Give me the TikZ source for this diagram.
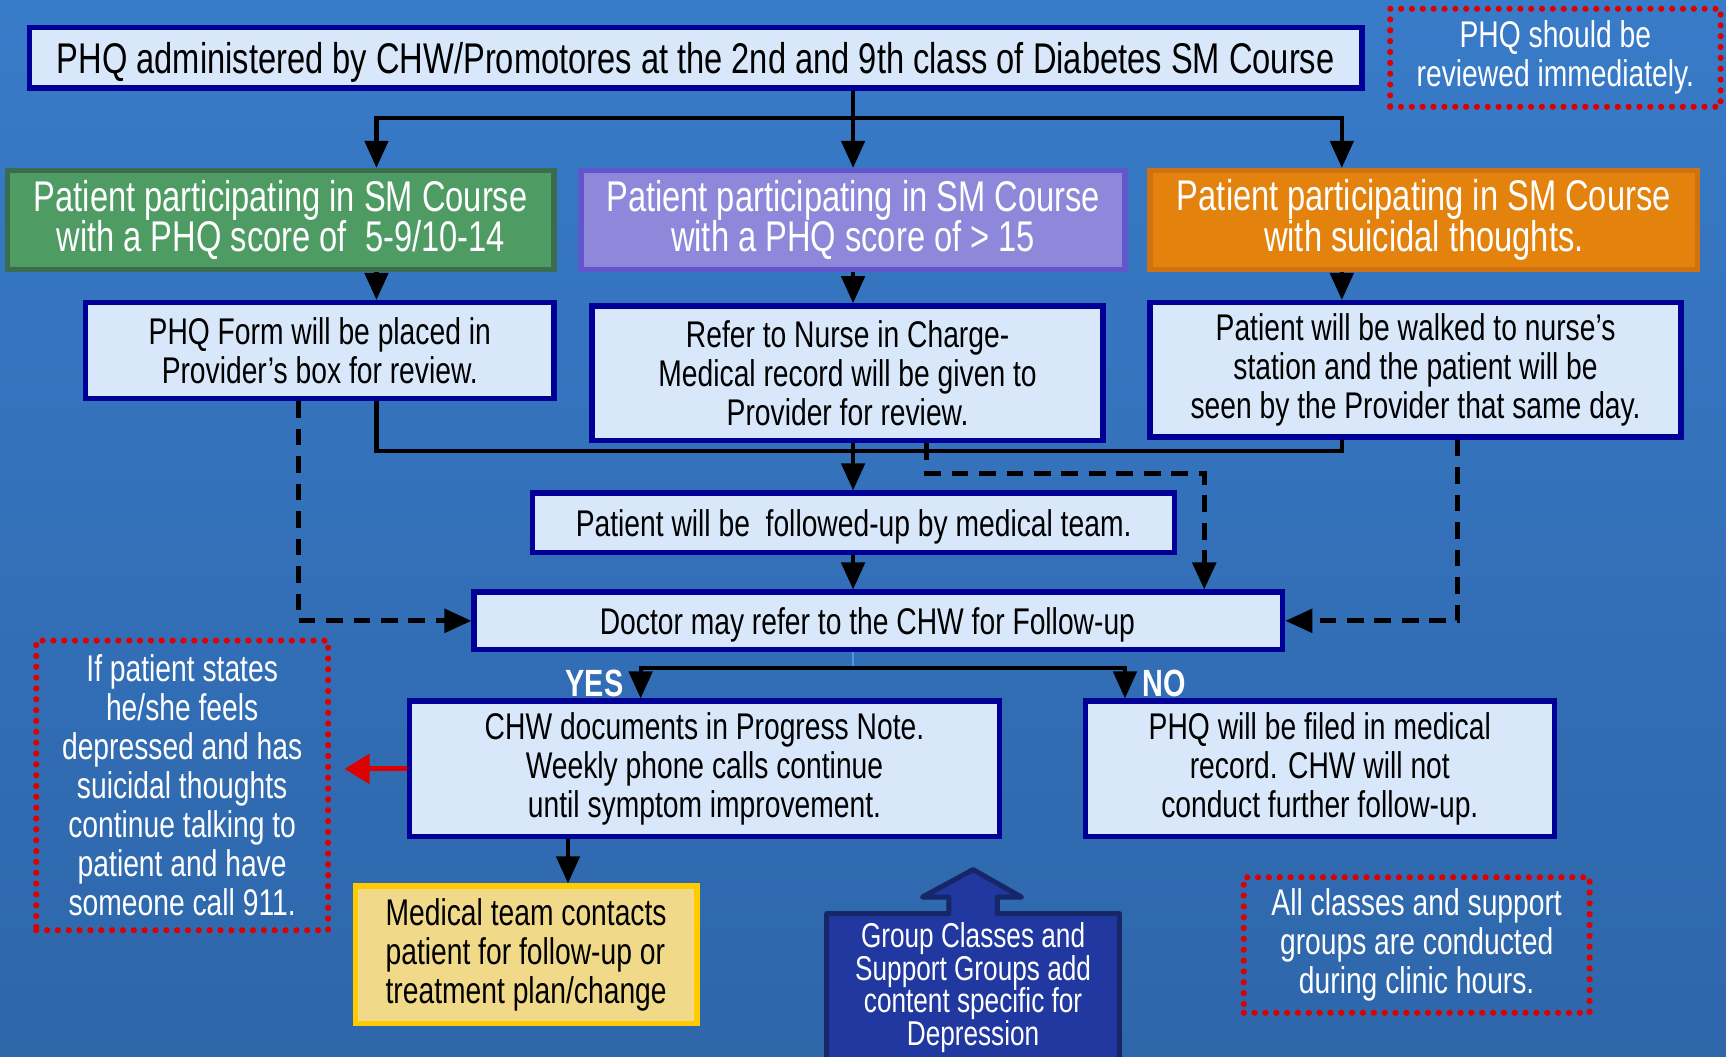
\documentclass[tikz,border=0pt]{standalone}
\usepackage{fontspec}
\setmainfont{Liberation Sans}[FakeStretch=0.76]
\usetikzlibrary{arrows.meta}
\definecolor{bgtop}{RGB}{56,123,200}
\definecolor{bgbot}{RGB}{46,102,170}
\definecolor{boxfill}{RGB}{216,232,250}
\definecolor{boxline}{RGB}{0,0,150}
\definecolor{grnfill}{RGB}{78,155,100}
\definecolor{grnline}{RGB}{58,108,78}
\definecolor{purfill}{RGB}{142,136,218}
\definecolor{purline}{RGB}{98,86,204}
\definecolor{orgfill}{RGB}{227,131,14}
\definecolor{orgline}{RGB}{206,114,18}
\definecolor{ylwfill}{RGB}{241,217,138}
\definecolor{ylwline}{RGB}{255,202,0}
\definecolor{grpfill}{RGB}{33,56,160}
\definecolor{grpline}{RGB}{22,38,104}
\definecolor{notered}{RGB}{220,0,0}
\definecolor{stubline}{RGB}{70,150,235}
\newcommand{\phqhead}{\fontsize{11.1}{10.5}\selectfont}
\newcommand{\phqbody}{\fontsize{9.6}{10.1}\selectfont}
\newcommand{\phqsmall}{\fontsize{8.9}{8.4}\selectfont}
\newcommand{\phqtag}{\fontsize{9.8}{10}\selectfont\bfseries}
\tikzset{
  lift/.style={execute at begin node={\rule{0pt}{0.95em}}},
  box/.style={draw=boxline, fill=boxfill, line width=1.4pt, inner sep=0pt, align=center, font=\phqbody, lift},
  headbox/.style={box, text=white, font=\phqhead},
  note/.style={draw=notered, line width=1.6pt, dash pattern=on 0pt off 2.8pt, line cap=round,
    text=white, align=center, inner sep=0pt, font=\phqbody, lift},
  link/.style={draw=black, line width=1.1pt},
  flow/.style={link, -{Triangle[width=6pt,length=7pt]}},
  dflow/.style={flow, line width=1.3pt, dash pattern=on 4.3pt off 2.8pt},
  redflow/.style={draw=notered, line width=1.3pt, -{Triangle[width=7.5pt,length=6.5pt]}},
  tag/.style={text=white, font=\phqtag, inner sep=0pt}
}
\begin{document}
\begin{tikzpicture}[x=0.01cm, y=-0.01cm]
    \shade[top color=bgtop, bottom color=bgbot] (0,0) rectangle (1568,960);
    \useasboundingbox (0,0) rectangle (1568,960);
    % columns of the connectors
    \coordinate (colL) at (342,0);
    \coordinate (colM) at (775,0);
    \coordinate (colR) at (1219,0);
    \coordinate (colF) at (271,0);
    \coordinate (colG) at (1324,0);
    \coordinate (colD) at (842,0);
    \coordinate (colE) at (1094,0);
    \coordinate (colYes) at (582,0);
    \coordinate (colNo) at (1022,0);
    \coordinate (colC) at (516,0);
    \coordinate (busA) at (775,107);
    \coordinate (busB) at (775,410);
    \coordinate (busD) at (775,430);
    \coordinate (busC) at (775,607);

    \node[box, font=\phqhead, minimum width=121mm, minimum height=5.5mm] (admin) at (632,52.5)
        {PHQ administered by CHW/Promotores at the 2nd and 9th class of Diabetes SM Course};
    \node[note, minimum width=30mm, minimum height=8.9mm] (review) at (1413,52.5)
        {PHQ should be\\reviewed immediately.};

    \node[headbox, draw=grnline, fill=grnfill, minimum width=49.6mm, minimum height=9mm] (mild) at (255,200)
        {Patient participating in SM Course\\with a PHQ score of~ 5-9/10-14};
    \node[headbox, draw=purline, fill=purfill, minimum width=49.4mm, minimum height=9mm] (severe) at (775,200)
        {Patient participating in SM Course\\with a PHQ score of > 15};
    \node[headbox, draw=orgline, fill=orgfill, minimum width=49.7mm, minimum height=9mm] (suicidal) at (1293.5,200)
        {Patient participating in SM Course\\with suicidal thoughts.};

    \node[box, minimum width=42.5mm, minimum height=8.7mm] (form) at (290.5,318.5)
        {PHQ Form will be placed in\\Provider’s box for review.};
    \node[box, minimum width=46.4mm, minimum height=12.2mm] (nurse) at (770,339)
        {Refer to Nurse in Charge-\\Medical record will be given to\\Provider for review.};
    \node[box, minimum width=48.2mm, minimum height=12.2mm] (walked) at (1286,336)
        {Patient will be walked to nurse’s\\ station and the patient will be\\seen by the Provider that same day.};

    \node[box, minimum width=58.3mm, minimum height=5.4mm] (team) at (775.5,475)
        {Patient will be~ followed-up by medical team.};
    \node[box, minimum width=73.4mm, minimum height=5.2mm] (doctor) at (798,564)
        {Doctor may refer to the CHW for Follow-up\hspace{2mm}};

    \node[box, minimum width=53.6mm, minimum height=12.3mm] (chw) at (640,698.5)
        {CHW documents in Progress Note.\\Weekly phone calls continue\\until symptom improvement.};
    \node[box, minimum width=42.6mm, minimum height=12.3mm] (filed) at (1199,698.5)
        {PHQ will be filed in medical\\record. CHW will not\\conduct further follow-up.};

    \node[note, minimum width=26.5mm, minimum height=26.3mm] (warn) at (165.5,713.5)
        {If patient states\\he/she feels\\depressed and has\\suicidal thoughts\\continue talking to\\patient and have\\someone call 911.};
    \node[box, draw=ylwline, fill=ylwfill, align=left, minimum width=31mm, minimum height=12.5mm] (contact) at (478,867.5)
        {Medical team contacts\\patient for follow-up or\\treatment plan/change};
    \node[note, minimum width=31.4mm, minimum height=12.3mm] (hours) at (1287,858.5)
        {All classes and support\\groups are conducted\\during clinic hours.};

    \draw[draw=grpline, fill=grpfill, line width=1.3pt, line join=round]
        (751,830) -- (862,830) -- (862,815) -- (838,815) -- (884,790) -- (928,815)
        -- (906,815) -- (906,830) -- (1017,830) -- (1017,975) -- (751,975) -- cycle;
    \node[text=white, align=center, font=\phqsmall, inner sep=0pt, lift] (groups) at (884,897)
        {Group Classes and\\Support Groups add\\content specific for\\Depression};

    \node[tag] (yes) at (540,621) {YES};
    \node[tag] (no) at (1058,621) {NO};

    % solid flow
    \draw[link] (colM |- admin.south) -- (busA);
    \draw[flow] (busA) -| (colL |- mild.north);
    \draw[flow] (busA) -- (colM |- severe.north);
    \draw[flow] (busA) -| (colR |- suicidal.north);
    \draw[flow] (colL |- mild.south) -- (colL |- form.north);
    \draw[flow] (colM |- severe.south) -- (colM |- nurse.north);
    \draw[flow] (colR |- suicidal.south) -- (colR |- walked.north);
    \draw[link] (colL |- form.south) |- (colR |- busB) -- (colR |- walked.south);
    \draw[flow] (colM |- nurse.south) -- (colM |- team.north);
    \draw[flow] (colM |- team.south) -- (colM |- doctor.north);
    \draw[draw=stubline, line width=0.6pt] (colM |- doctor.south) -- (busC);
    \draw[flow] (busC) -| (colYes |- chw.north);
    \draw[flow] (busC) -| (colNo |- filed.north);
    \draw[flow] (colC |- chw.south) -- (colC |- contact.north);
    \draw[redflow, shorten >=1.2mm] (chw.west) -- (warn.east |- chw.west);

    % dashed flow
    \draw[dflow] (colF |- form.south) |- (doctor.west);
    \draw[dflow] (colG |- walked.south) |- (doctor.east);
    \draw[dflow] (colD |- nurse.south) |- (colE |- busD) -- (colE |- doctor.north);
\end{tikzpicture}
\end{document}
